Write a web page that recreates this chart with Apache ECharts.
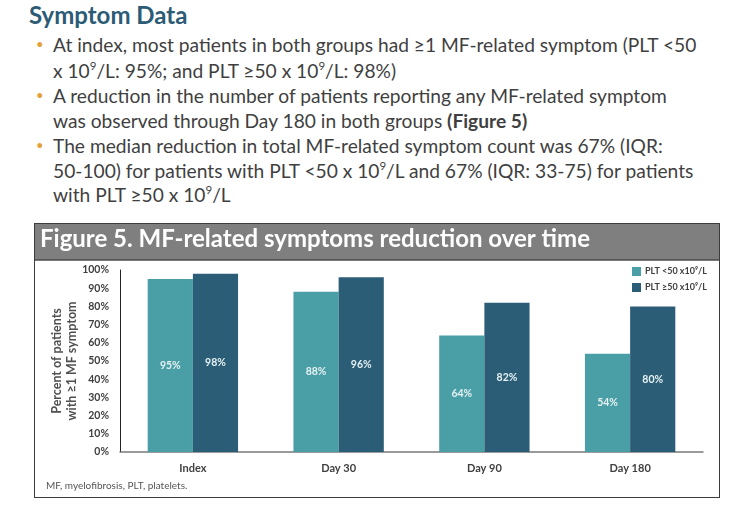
<!DOCTYPE html>
<html>
<head>
<meta charset="utf-8">
<script src="https://cdn.jsdelivr.net/npm/echarts@6/dist/echarts.min.js"></script>
<style>
  html, body { margin: 0; padding: 0; background: #fff; }
  body { width: 732px; height: 507px; position: relative; overflow: hidden; font-family: Lato, "Open Sans", sans-serif; }
  #title { position: absolute; left: 29px; top: 0px; font-size: 24px; font-weight: bold; color: #2c5b75; }
  .pt { position: absolute; left: 53px; font-size: 19.2px; line-height: 25px; color: #3f3f3f; white-space: nowrap; }
  .dot { position: absolute; left: 36px; font-size: 13px; line-height: 25px; color: #e3a23a; }
  sup { font-size: 0.6em; line-height: 0; vertical-align: 0.7em; }
  #chart { position: absolute; left: 34px; top: 223px; width: 684px; height: 273px; border: 1.5px solid #3c3c3c; }
</style>
</head>
<body>
<div id="title">Symptom Data</div>
<div class="dot" style="top:32px">•</div>
<div class="pt" style="top:32px">At index, most patients in both groups had ≥1 MF-related symptom (PLT &lt;50</div>
<div class="pt" style="top:58px">x 10<sup>9</sup>/L: 95%; and PLT ≥50 x 10<sup>9</sup>/L: 98%)</div>
<div class="dot" style="top:83px">•</div>
<div class="pt" style="top:83px">A reduction in the number of patients reporting any MF-related symptom</div>
<div class="pt" style="top:108px">was observed through Day 180 in both groups <b>(Figure 5)</b></div>
<div class="dot" style="top:133px">•</div>
<div class="pt" style="top:133px">The median reduction in total MF-related symptom count was 67% (IQR:</div>
<div class="pt" style="top:158px">50-100) for patients with PLT &lt;50 x 10<sup>9</sup>/L and 67% (IQR: 33-75) for patients</div>
<div class="pt" style="top:182px">with PLT ≥50 x 10<sup>9</sup>/L</div>
<div id="chart"></div>
<script>
// 数据
const categories = ['Index', 'Day 30', 'Day 90', 'Day 180'];
const seriesNames = ['PLT <50 x10⁹/L', 'PLT ≥50 x10⁹/L'];
const pltLow = [95, 88, 64, 54];
const pltHigh = [98, 96, 82, 80];
const yTicks = [0, 100, 10];

const font = 'Lato, "Open Sans", sans-serif';
let myChart = echarts.init(document.querySelector('#chart'));

const barLabel = {
    show: true,
    position: 'inside',
    formatter: '{c}%',
    color: '#e4f1f2',
    fontSize: 10.5,
    fontWeight: 'bold',
    fontFamily: font
};

myChart.setOption({
    animation: false,
    textStyle: { fontFamily: font },
    graphic: [
        {
            type: 'rect', z: 0,
            shape: { x: 0, y: 0, width: 684, height: 36 },
            style: { fill: '#7f7f7f' }
        },
        {
            type: 'line', z: 1,
            shape: { x1: 0, y1: 36, x2: 684, y2: 36 },
            style: { stroke: '#4a4a4a', lineWidth: 1.5 }
        },
        {
            type: 'text', z: 2, left: 5, top: 3,
            style: {
                text: 'Figure 5. MF-related symptoms reduction over time',
                fill: '#fff', fontSize: 24, fontWeight: 'bold', fontFamily: font
            }
        },
        {
            type: 'text', z: 2, left: 11, top: 257,
            style: {
                text: 'MF, myelofibrosis, PLT, platelets.',
                fill: '#555', fontSize: 10, fontFamily: font
            }
        }
    ],
    legend: {
        orient: 'vertical',
        left: 592,
        top: 38,
        itemWidth: 9,
        itemHeight: 9,
        itemGap: 7,
        icon: 'rect',
        data: seriesNames,
        textStyle: { fontSize: 9, fontWeight: 'bold', color: '#404040', padding: [0, 0, 0, -1] }
    },
    grid: { left: 85, right: 16, top: 46, bottom: 45 },
    xAxis: {
        type: 'category',
        data: categories,
        axisTick: { show: false },
        axisLine: { lineStyle: { color: '#7a7a7a', width: 1.5 } },
        axisLabel: { margin: 11, fontSize: 11, fontWeight: 'bold', color: '#404040' }
    },
    yAxis: {
        type: 'value',
        min: yTicks[0],
        max: yTicks[1],
        interval: yTicks[2],
        name: 'Percent of patients\nwith ≥1 MF symptom',
        nameLocation: 'middle',
        nameGap: 41,
        nameMoveOverlap: false,
        nameTextStyle: { fontSize: 12.5, fontWeight: 'bold', color: '#505050', lineHeight: 15 },
        axisLine: { show: true, lineStyle: { color: '#222', width: 1 } },
        axisTick: { show: false },
        splitLine: { show: false },
        axisLabel: { formatter: '{value}%', margin: 11, fontSize: 10.5, fontWeight: 'bold', color: '#404040' }
    },
    series: [
        {
            name: seriesNames[0],
            type: 'bar',
            data: pltLow,
            barWidth: '31%',
            barGap: '0%',
            itemStyle: { color: '#4a9fa6' },
            label: barLabel
        },
        {
            name: seriesNames[1],
            type: 'bar',
            data: pltHigh,
            barWidth: '31%',
            itemStyle: { color: '#2c5d77' },
            label: barLabel
        }
    ]
});
</script>
</body>
</html>
